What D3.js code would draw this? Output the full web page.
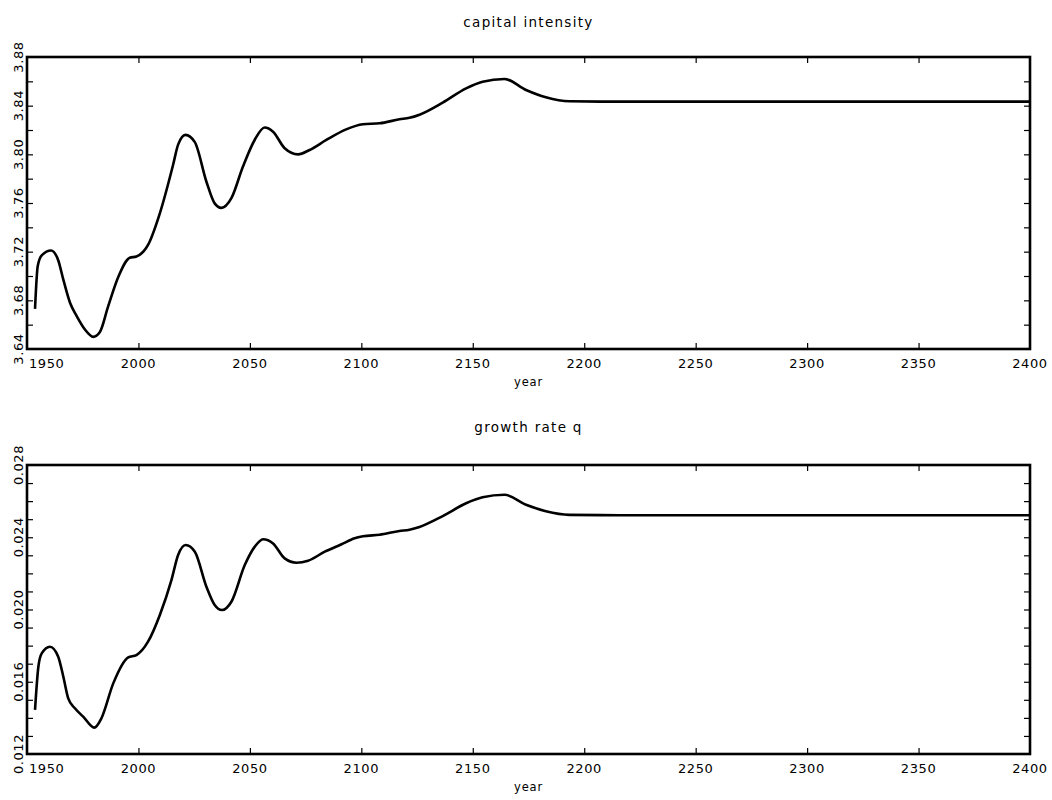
<!DOCTYPE html>
<html>
<head>
<meta charset="utf-8">
<script src="https://cdn.jsdelivr.net/npm/d3@7"></script>
<style>
  body { margin: 0; background: #fff; }
  svg text { font-family: "DejaVu Sans", sans-serif; fill: #000; }
</style>
</head>
<body>
<svg id="chart" width="1052" height="800"></svg>
<script>
// ---- data ----
const kYears = [1953.6, 1954.8, 1956.6, 1960.8, 1964.0, 1966.3, 1969.3, 1972.3, 1976.0, 1979.7, 1982.7, 1986.4, 1990.9, 1996.1, 1999.1, 2004.3, 2009.6, 2015.5, 2017.8, 2021.1, 2025.3, 2030.5, 2034.2, 2037.2, 2041.7, 2046.9, 2052.2, 2056.6, 2060.4, 2065.6, 2071.6, 2076.8, 2084.3, 2093.2, 2100.7, 2108.2, 2117.1, 2121.6, 2126.1, 2136.5, 2147.0, 2154.4, 2164.2, 2173.9, 2182.8, 2193.3, 2215.7, 2400];
const kValues = [3.673, 3.708, 3.717, 3.721, 3.713, 3.697, 3.678, 3.667, 3.656, 3.650, 3.654, 3.675, 3.699, 3.715, 3.716, 3.7255, 3.7515, 3.791, 3.808, 3.816, 3.810, 3.7775, 3.7597, 3.756, 3.764, 3.790, 3.812, 3.822, 3.8186, 3.805, 3.800, 3.8036, 3.8118, 3.8205, 3.8247, 3.8255, 3.8288, 3.830, 3.8326, 3.8425, 3.8542, 3.8597, 3.8619, 3.8529, 3.8469, 3.8436, 3.8433, 3.8433];

const qYears = [1953.6, 1955.1, 1956.6, 1960.3, 1964.0, 1966.3, 1968.5, 1971.5, 1975.2, 1980.2, 1983.4, 1988.7, 1995.4, 1999.1, 2004.3, 2009.6, 2014.8, 2017.8, 2021.2, 2025.3, 2030.5, 2034.2, 2037.5, 2041.7, 2047.7, 2052.2, 2055.9, 2060.4, 2065.6, 2070.9, 2076.1, 2083.6, 2091.1, 2097.0, 2100.7, 2108.2, 2117.1, 2121.6, 2126.1, 2136.5, 2147.0, 2154.4, 2164.2, 2173.9, 2182.8, 2193.3, 2215.7, 2400];
const qValues = [0.01444, 0.01683, 0.01757, 0.01794, 0.01739, 0.01628, 0.01508, 0.01453, 0.01407, 0.01346, 0.01398, 0.01591, 0.01735, 0.01748, 0.01822, 0.01970, 0.02163, 0.02302, 0.02357, 0.02320, 0.02126, 0.02025, 0.01997, 0.02043, 0.02246, 0.02348, 0.02389, 0.02366, 0.02283, 0.02259, 0.02270, 0.02320, 0.02361, 0.02394, 0.02405, 0.02414, 0.02435, 0.02442, 0.02457, 0.02517, 0.02588, 0.02621, 0.02635, 0.02580, 0.02544, 0.02524, 0.02522, 0.02522];

const titles = ["capital intensity", "growth rate q"];
const xLabel = "year";
const xTicks = [1950, 2000, 2050, 2100, 2150, 2200, 2250, 2300, 2350, 2400];
const kYTicks = [3.64, 3.68, 3.72, 3.76, 3.80, 3.84, 3.88];
const qYTicks = [0.012, 0.016, 0.020, 0.024, 0.028];

// ---- drawing ----
const svg = d3.select("#chart");
const left = 27, right = 1030;

const panels = [
  { top: 57, bottom: 349, years: kYears, values: kValues, domain: [3.64, 3.88], labelTicks: kYTicks, minorStep: 0.02, fmt: d3.format(".2f"), title: titles[0], titleY: 27 },
  { top: 465, bottom: 754, years: qYears, values: qValues, domain: [0.012, 0.028], labelTicks: qYTicks, minorStep: 0.001, fmt: d3.format(".3f"), title: titles[1], titleY: 432 }
];

panels.forEach(p => {
  const x = d3.scaleLinear().domain([1950, 2400]).range([left, right]);
  const y = d3.scaleLinear().domain(p.domain).range([p.bottom, p.top]);
  const g = svg.append("g");

  const nMinor = Math.round((p.domain[1] - p.domain[0]) / p.minorStep);
  const yTickVals = d3.range(1, nMinor).map(i => p.domain[0] + i * p.minorStep);

  // inward ticks on all four sides
  const tl = 6;
  g.append("g").attr("transform", `translate(${left},0)`)
    .call(d3.axisRight(y).tickValues(yTickVals).tickSize(tl).tickFormat(""))
    .call(a => a.select(".domain").remove());
  g.append("g").attr("transform", `translate(${right},0)`)
    .call(d3.axisLeft(y).tickValues(yTickVals).tickSize(tl).tickFormat(""))
    .call(a => a.select(".domain").remove());
  const xInner = xTicks.slice(1, -1);
  g.append("g").attr("transform", `translate(0,${p.bottom})`)
    .call(d3.axisTop(x).tickValues(xInner).tickSize(tl).tickFormat(""))
    .call(a => a.select(".domain").remove());
  g.append("g").attr("transform", `translate(0,${p.top})`)
    .call(d3.axisBottom(x).tickValues(xInner).tickSize(tl).tickFormat(""))
    .call(a => a.select(".domain").remove());
  g.selectAll(".tick line").attr("stroke", "#000").attr("stroke-width", 1.2);

  // frame
  g.append("rect")
    .attr("x", left).attr("y", p.top)
    .attr("width", right - left).attr("height", p.bottom - p.top)
    .attr("fill", "none").attr("stroke", "#000").attr("stroke-width", 2.6);

  // x tick labels
  g.selectAll(".xl").data(xTicks).enter().append("text")
    .attr("x", (d, i) => i === 0 ? x(d) + 2 : x(d))
    .attr("y", p.bottom + 19)
    .attr("text-anchor", (d, i) => i === 0 ? "start" : "middle")
    .attr("font-size", 13)
    .attr("letter-spacing", 0.6)
    .text(d => d);

  // y tick labels (rotated)
  g.selectAll(".yl").data(p.labelTicks).enter().append("text")
    .attr("transform", d => `translate(23,${y(d)}) rotate(-90)`)
    .attr("text-anchor", "middle")
    .attr("font-size", 13)
    .attr("letter-spacing", 0.6)
    .text(d => p.fmt(d));

  // title
  g.append("text")
    .attr("x", (left + right) / 2).attr("y", p.titleY)
    .attr("text-anchor", "middle")
    .attr("font-size", 13.5)
    .attr("letter-spacing", 1.3)
    .text(p.title);

  // x axis label
  g.append("text")
    .attr("x", (left + right) / 2).attr("y", p.bottom + 37)
    .attr("text-anchor", "middle")
    .attr("font-size", 11.5)
    .attr("letter-spacing", 0.8)
    .text(xLabel);

  // curve
  const line = d3.line()
    .x((d, i) => x(p.years[i]))
    .y(d => y(d))
    .curve(d3.curveMonotoneX);
  g.append("path")
    .datum(p.values)
    .attr("d", line)
    .attr("fill", "none")
    .attr("stroke", "#000")
    .attr("stroke-width", 2.6)
    .attr("stroke-linejoin", "round");
});
</script>
</body>
</html>
